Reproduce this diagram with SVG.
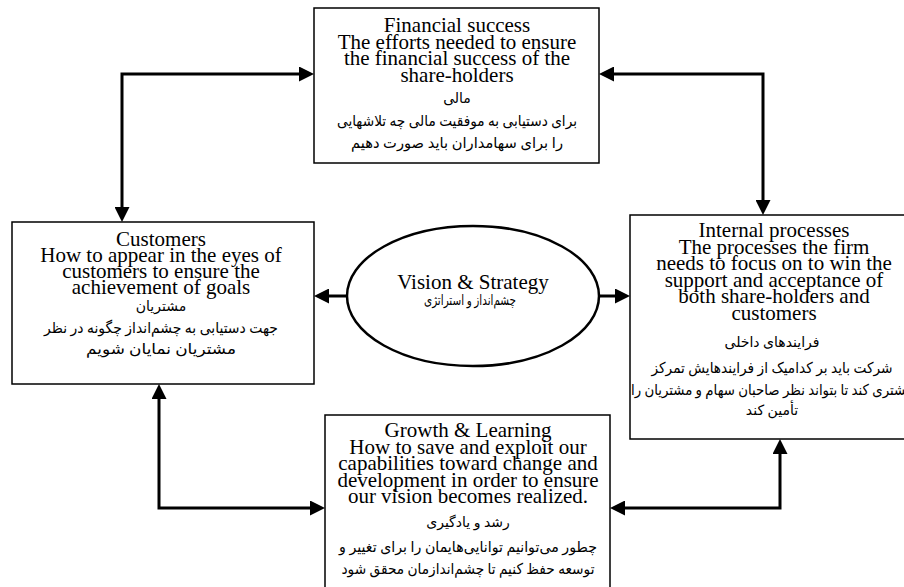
<svg xmlns="http://www.w3.org/2000/svg" width="904" height="587" viewBox="0 0 904 587">
<style>
.box{fill:#fff;stroke:#000;stroke-width:1.5}
.ell{fill:#fff;stroke:#000;stroke-width:2.5}
.en{font-family:"Liberation Serif","Times New Roman",serif;font-size:21px;fill:#000;text-anchor:middle}
.fa{font-family:"Liberation Serif","DejaVu Sans",sans-serif;font-size:15px;fill:#000;text-anchor:middle;direction:rtl;unicode-bidi:embed}
.fat{font-size:14px}
.con{fill:none;stroke:#000;stroke-width:3}
</style>
<defs>
<marker id="ah" viewBox="0 0 15 15" refX="0" refY="7.5" markerWidth="15" markerHeight="15" markerUnits="userSpaceOnUse" orient="auto-start-reverse">
<path d="M0,0 L15,7.5 L0,15 z" fill="#000"/>
</marker>
</defs>
<g id="connectors">
<path class="con" d="M299,74 H122 V207" marker-start="url(#ah)" marker-end="url(#ah)"/>
<path class="con" d="M614,74 H763 V200" marker-start="url(#ah)" marker-end="url(#ah)"/>
<path class="con" d="M159,399 V508 H310" marker-start="url(#ah)" marker-end="url(#ah)"/>
<path class="con" d="M625,508 H780 V454" marker-start="url(#ah)" marker-end="url(#ah)"/>
<path class="con" d="M348,296 H329" marker-end="url(#ah)"/>
<path class="con" d="M598,296 H615" marker-end="url(#ah)"/>
</g>
<g id="financial">
<rect class="box" x="314" y="8" width="285" height="155"/>
<text class="en" x="457" y="32">Financial success</text>
<text class="en" x="457" y="48.5">The efforts needed to ensure</text>
<text class="en" x="457" y="65">the financial success of the</text>
<text class="en" x="457" y="81.5">share-holders</text>
<text class="fa fat" x="457" y="103">مالی</text>
<text class="fa" x="457" y="126" textLength="240" lengthAdjust="spacingAndGlyphs">برای دستیابی به موفقیت مالی چه تلاشهایی</text>
<text class="fa" x="457" y="148" textLength="212" lengthAdjust="spacingAndGlyphs">را برای سهامداران باید صورت دهیم</text>
</g>
<g id="customers">
<rect class="box" x="12" y="222" width="302" height="162"/>
<text class="en" x="161" y="246">Customers</text>
<text class="en" x="161" y="262">How to appear in the eyes of</text>
<text class="en" x="161" y="278">customers to ensure the</text>
<text class="en" x="161" y="294">achievement of goals</text>
<text class="fa fat" x="161" y="311">مشتریان</text>
<text class="fa" x="161" y="333" textLength="234" lengthAdjust="spacingAndGlyphs">جهت دستیابی به چشم‌انداز چگونه در نظر</text>
<text class="fa" x="161" y="354" textLength="150" lengthAdjust="spacingAndGlyphs">مشتریان نمایان شویم</text>
</g>
<g id="vision">
<ellipse class="ell" cx="473" cy="296" rx="126" ry="70"/>
<text class="en" x="473" y="289">Vision &amp; Strategy</text>
<text class="fa" x="470" y="305" style="font-size:14px" textLength="92" lengthAdjust="spacingAndGlyphs">چشم‌انداز و استراتژی</text>
</g>
<g id="internal">
<rect class="box" x="630" y="215" width="290" height="224"/>
<text class="en" x="774" y="237">Internal processes</text>
<text class="en" x="774" y="253.5">The processes the firm</text>
<text class="en" x="774" y="270">needs to focus on to win the</text>
<text class="en" x="774" y="286.5">support and acceptance of</text>
<text class="en" x="774" y="303">both share-holders and</text>
<text class="en" x="774" y="319.5">customers</text>
<text class="fa fat" x="772" y="347">فرایندهای داخلی</text>
<text class="fa" x="772" y="373" textLength="241" lengthAdjust="spacingAndGlyphs">شرکت باید بر کدامیک از فرایندهایش تمرکز</text>
<text class="fa" x="772" y="395" textLength="282" lengthAdjust="spacingAndGlyphs">مشتری کند تا بتواند نظر صاحبان سهام و مشتریان را</text>
<text class="fa fat" x="772" y="415">تأمین کند</text>
</g>
<g id="growth">
<rect class="box" x="325" y="415" width="285" height="180"/>
<text class="en" x="468" y="437">Growth &amp; Learning</text>
<text class="en" x="468" y="453.5">How to save and exploit our</text>
<text class="en" x="468" y="470">capabilities toward change and</text>
<text class="en" x="468" y="486.5">development in order to ensure</text>
<text class="en" x="468" y="503">our vision becomes realized.</text>
<text class="fa fat" x="468" y="527">رشد و یادگیری</text>
<text class="fa" x="468" y="552" textLength="258" lengthAdjust="spacingAndGlyphs">چطور می‌توانیم توانایی‌هایمان را برای تغییر و</text>
<text class="fa" x="468" y="574" textLength="253" lengthAdjust="spacingAndGlyphs">توسعه حفظ کنیم تا چشم‌اندازمان محقق شود</text>
</g>
</svg>
